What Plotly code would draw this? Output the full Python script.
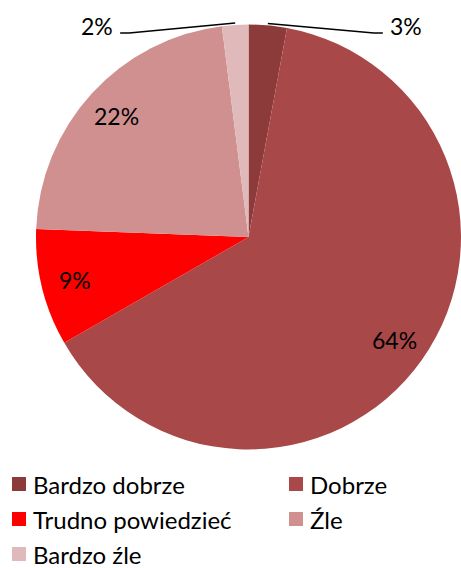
import math
import plotly.graph_objects as go

labels = ["Bardzo dobrze", "Dobrze", "Trudno powiedzieć", "Źle", "Bardzo źle"]
values = [2.9, 63.8, 8.9, 22.4, 2.0]
colors = ["#8C3A3A", "#A94848", "#FF0000", "#D09090", "#E0BABA"]

W, H = 461, 568
cx, cy, R = 248.5, 237, 212.5
FONT = "Lato"

fig = go.Figure(go.Pie(
    labels=labels, values=values, sort=False, direction="clockwise", rotation=0,
    marker=dict(colors=colors, line=dict(width=0)),
    textinfo="none", hoverinfo="label+percent",
    domain=dict(x=[36 / W, 1.0], y=[1 - 450 / H, 1 - 24 / H]),
    showlegend=False,
))


def px(x):
    return x / W


def py(y):
    return 1 - y / H


total = sum(values)
annotations = []
shapes = []
cum = 0
for lab, v in zip(labels, values):
    mid = (cum + v / 2) / total * 2 * math.pi
    cum += v
    txt = f"{round(v / total * 100)}%"
    sx, sy = math.sin(mid), -math.cos(mid)
    if v / total >= 0.05:
        r = 0.84 * R
        x, y = cx + r * sx, cy + r * sy
        annotations.append(dict(x=px(x), y=py(y), xref="paper", yref="paper",
                                xanchor="center", yanchor="middle",
                                text=txt, showarrow=False,
                                font=dict(family=FONT, size=23, color="#000")))
    else:
        x0, y0 = cx + R * sx, cy + (R + 2) * sy
        side = 1 if sx > 0 else -1
        x1 = x0 + side * 106
        y1 = 33
        x2 = x1 + side * 9
        path = f"M{px(x0)},{py(y0)} L{px(x1)},{py(y1)} L{px(x2)},{py(y1)}"
        shapes.append(dict(type="path", xref="paper", yref="paper", path=path,
                           line=dict(color="#000", width=1.5)))
        annotations.append(dict(x=px(x2 + side * 5), y=py(26), xref="paper", yref="paper",
                                text=txt, showarrow=False,
                                xanchor="left" if side > 0 else "right", yanchor="middle",
                                font=dict(family=FONT, size=23, color="#000")))

# legend (two columns) built from the labels and colours
for i, (lab, col) in enumerate(zip(labels, colors)):
    c, r = i % 2, i // 2
    x0 = 12 + c * 277
    yc = 484 + r * 35
    shapes.append(dict(type="rect", xref="paper", yref="paper",
                       x0=px(x0), x1=px(x0 + 14), y0=py(yc - 7), y1=py(yc + 7),
                       fillcolor=col, line=dict(width=0)))
    annotations.append(dict(x=px(x0 + 19), y=py(yc), xref="paper", yref="paper",
                            text=lab, showarrow=False, xanchor="left", yanchor="middle",
                            font=dict(family=FONT, size=24, color="#000")))

fig.update_layout(
    width=W, height=H,
    margin=dict(l=0, r=0, t=0, b=0, autoexpand=False),
    paper_bgcolor="white",
    annotations=annotations, shapes=shapes,
    showlegend=False,
)

fig.write_html("out.html", config={"displayModeBar": False},
               post_script="document.body.style.margin='0';")
